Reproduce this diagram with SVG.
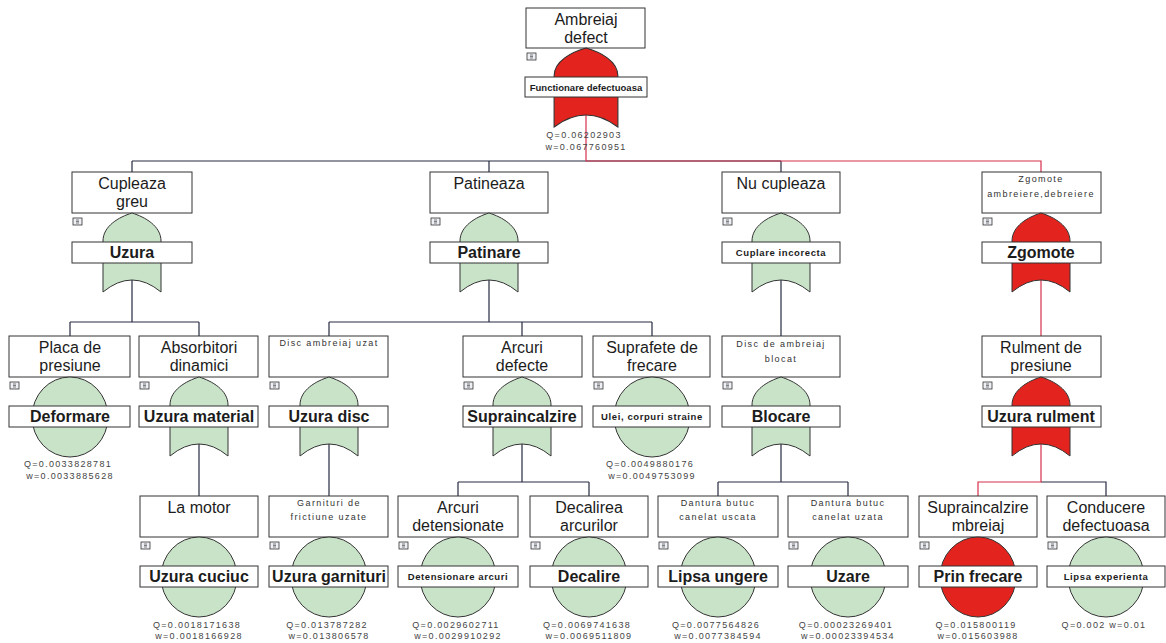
<svg xmlns="http://www.w3.org/2000/svg" xmlns:xlink="http://www.w3.org/1999/xlink" width="1166" height="643" viewBox="0 0 1166 643">
<style>
text{font-family:"Liberation Sans",Arial,sans-serif;fill:#1c1c1c;text-anchor:middle}
.box{fill:#fff;stroke:#333;stroke-width:1}
.lbl{fill:#fff;stroke:#333;stroke-width:1}
.t{font-size:16px}
.ts{font-size:9px;letter-spacing:1.4px;fill:#333}
.b{font-size:16px;font-weight:bold}
.bs{font-size:9.5px;font-weight:bold;letter-spacing:0.6px}
.q{font-size:9px;letter-spacing:1.3px;fill:#444}
.g{fill:#c9e3c9;stroke:#333;stroke-width:1}
.r{fill:#e3231d;stroke:#333;stroke-width:1}
.ln{stroke:#262a40;stroke-width:1.2;fill:none}
.lr{stroke:#d6304c;stroke-width:1.2;fill:none}
</style>
<defs>
<path id="gate" d="M-29,79 V28 C-29,13 -13,4 0,0 C13,4 29,13 29,28 V79 Q0,55 -29,79 Z"/>
<g id="ico"><rect x="0" y="0" width="9" height="7" fill="#eef0f6" stroke="#333" stroke-width="0.8"/><path d="M3,2 H6 M3,3.5 H6 M3,5 H6" stroke="#333" stroke-width="0.6"/></g>
</defs>
<rect width="1166" height="643" fill="#fff"/>
<g id="connectors">
<path class="ln" d="M132,161 H781 M132,161 V172 M489,161 V172 M781,161 V172"/>
<path class="lr" d="M586,115 V161 H1041 V172"/>
<path class="ln" d="M132,280 V322 M70,322 H199 M70,322 V336 M199,322 V336"/>
<path class="ln" d="M489,280 V322 M329,322 H652 M329,322 V336 M522,322 V336 M652,322 V336"/>
<path class="ln" d="M781,280 V336"/>
<path class="lr" d="M1041,280 V336"/>
<path class="ln" d="M199,444 V496 M329,444 V496"/>
<path class="ln" d="M522,444 V482 M458,482 H589 M458,482 V496 M589,482 V496"/>
<path class="ln" d="M781,444 V482 M718,482 H848 M718,482 V496 M848,482 V496"/>
<path class="ln" d="M1041,482 H1106 V496"/>
<path class="lr" d="M1041,444 V482 H978 V496"/>
</g>
<g id="n-ambreiaj">
<rect class="box" x="526" y="8" width="119" height="40"/>
<text class="t" x="586" y="25">Ambreiaj</text><text class="t" x="586" y="43">defect</text>
<use xlink:href="#ico" x="527" y="53"/>
<use xlink:href="#gate" class="r" transform="translate(586,48) scale(1.1,1)"/>
<rect class="lbl" x="525" y="77" width="122" height="20"/>
<text class="bs" x="586" y="91" style="letter-spacing:0">Functionare defectuoasa</text>
<text class="q" x="584" y="138">Q=0.06202903</text><text class="q" x="586" y="150">w=0.067760951</text>
</g>
<g id="n-cupleaza">
<rect class="box" x="72" y="172" width="120" height="41"/>
<text class="t" x="132" y="189">Cupleaza</text><text class="t" x="132" y="207">greu</text>
<use xlink:href="#ico" x="73" y="218"/>
<use xlink:href="#gate" class="g" x="132" y="213"/>
<rect class="lbl" x="72" y="242" width="120" height="21"/>
<text class="b" x="132" y="258">Uzura</text>
</g>
<g id="n-patineaza">
<rect class="box" x="430" y="172" width="118" height="41"/>
<text class="t" x="489" y="189">Patineaza</text>
<use xlink:href="#ico" x="431" y="218"/>
<use xlink:href="#gate" class="g" x="489" y="213"/>
<rect class="lbl" x="430" y="242" width="118" height="21"/>
<text class="b" x="489" y="258">Patinare</text>
</g>
<g id="n-nucupleaza">
<rect class="box" x="722" y="172" width="118" height="41"/>
<text class="t" x="781" y="189">Nu cupleaza</text>
<use xlink:href="#ico" x="723" y="218"/>
<use xlink:href="#gate" class="g" x="781" y="213"/>
<rect class="lbl" x="722" y="242" width="118" height="21"/>
<text class="bs" x="781" y="256">Cuplare incorecta</text>
</g>
<g id="n-zgomote">
<rect class="box" x="982" y="172" width="119" height="41"/>
<text class="ts" x="1041" y="182">Zgomote</text><text class="ts" x="1041" y="197">ambreiere,debreiere</text>
<use xlink:href="#ico" x="983" y="218"/>
<use xlink:href="#gate" class="r" x="1041" y="213"/>
<rect class="lbl" x="982" y="242" width="119" height="21"/>
<text class="b" x="1041" y="258">Zgomote</text>
</g>
<g id="n-placa">
<rect class="box" x="9" y="336" width="121" height="41"/>
<text class="t" x="70" y="353">Placa de</text><text class="t" x="70" y="371">presiune</text>
<use xlink:href="#ico" x="10" y="382"/>
<ellipse class="g" cx="70" cy="417" rx="38" ry="40"/>
<rect class="lbl" x="9" y="406" width="121" height="21"/>
<text class="b" x="70" y="422">Deformare</text>
<text class="q" x="68" y="467">Q=0.0033828781</text><text class="q" x="70" y="479">w=0.0033885628</text>
</g>
<g id="n-absorbitori">
<rect class="box" x="139" y="336" width="119" height="41"/>
<text class="t" x="199" y="353">Absorbitori</text><text class="t" x="199" y="371">dinamici</text>
<use xlink:href="#ico" x="140" y="382"/>
<use xlink:href="#gate" class="g" x="199" y="377"/>
<rect class="lbl" x="139" y="406" width="119" height="21"/>
<text class="b" x="199" y="422">Uzura material</text>
</g>
<g id="n-disc">
<rect class="box" x="269" y="336" width="119" height="41"/>
<text class="ts" x="329" y="346">Disc ambreiaj uzat</text>
<use xlink:href="#ico" x="270" y="382"/>
<use xlink:href="#gate" class="g" x="329" y="377"/>
<rect class="lbl" x="269" y="406" width="119" height="21"/>
<text class="b" x="329" y="422">Uzura disc</text>
</g>
<g id="n-arcuri">
<rect class="box" x="463" y="336" width="119" height="41"/>
<text class="t" x="522" y="353">Arcuri</text><text class="t" x="522" y="371">defecte</text>
<use xlink:href="#ico" x="464" y="382"/>
<use xlink:href="#gate" class="g" x="522" y="377"/>
<rect class="lbl" x="463" y="406" width="119" height="21"/>
<text class="b" x="522" y="422">Supraincalzire</text>
</g>
<g id="n-suprafete">
<rect class="box" x="593" y="336" width="117" height="41"/>
<text class="t" x="652" y="353">Suprafete de</text><text class="t" x="652" y="371">frecare</text>
<use xlink:href="#ico" x="594" y="382"/>
<ellipse class="g" cx="652" cy="417" rx="38" ry="40"/>
<rect class="lbl" x="593" y="406" width="117" height="21"/>
<text class="bs" x="652" y="420">Ulei, corpuri straine</text>
<text class="q" x="650" y="467">Q=0.0049880176</text><text class="q" x="652" y="479">w=0.0049753099</text>
</g>
<g id="n-discblocat">
<rect class="box" x="722" y="336" width="118" height="41"/>
<text class="ts" x="781" y="347">Disc de ambreiaj</text><text class="ts" x="781" y="362">blocat</text>
<use xlink:href="#ico" x="723" y="382"/>
<use xlink:href="#gate" class="g" x="781" y="377"/>
<rect class="lbl" x="722" y="406" width="118" height="21"/>
<text class="b" x="781" y="422">Blocare</text>
</g>
<g id="n-rulment">
<rect class="box" x="982" y="336" width="119" height="41"/>
<text class="t" x="1041" y="353">Rulment de</text><text class="t" x="1041" y="371">presiune</text>
<use xlink:href="#ico" x="983" y="382"/>
<use xlink:href="#gate" class="r" x="1041" y="377"/>
<rect class="lbl" x="982" y="406" width="119" height="21"/>
<text class="b" x="1041" y="422">Uzura rulment</text>
</g>
<g id="n-lamotor">
<rect class="box" x="140" y="496" width="118" height="41"/>
<text class="t" x="199" y="513">La motor</text>
<use xlink:href="#ico" x="141" y="542"/>
<ellipse class="g" cx="199" cy="577" rx="38" ry="40"/>
<rect class="lbl" x="140" y="566" width="118" height="21"/>
<text class="b" x="199" y="582">Uzura cuciuc</text>
<text class="q" x="197" y="628">Q=0.0018171638</text><text class="q" x="199" y="639">w=0.0018166928</text>
</g>
<g id="n-garnituri">
<rect class="box" x="269" y="496" width="119" height="41"/>
<text class="ts" x="329" y="506">Garnituri de</text><text class="ts" x="329" y="520">frictiune uzate</text>
<use xlink:href="#ico" x="270" y="542"/>
<ellipse class="g" cx="329" cy="577" rx="38" ry="40"/>
<rect class="lbl" x="269" y="566" width="119" height="21"/>
<text class="b" x="329" y="582">Uzura garnituri</text>
<text class="q" x="327" y="628">Q=0.013787282</text><text class="q" x="329" y="639">w=0.013806578</text>
</g>
<g id="n-detensionate">
<rect class="box" x="398" y="496" width="120" height="41"/>
<text class="t" x="458" y="513">Arcuri</text><text class="t" x="458" y="531">detensionate</text>
<use xlink:href="#ico" x="399" y="542"/>
<ellipse class="g" cx="458" cy="577" rx="38" ry="40"/>
<rect class="lbl" x="398" y="566" width="120" height="21"/>
<text class="bs" x="458" y="580">Detensionare arcuri</text>
<text class="q" x="456" y="628">Q=0.0029602711</text><text class="q" x="458" y="639">w=0.0029910292</text>
</g>
<g id="n-decalirea">
<rect class="box" x="530" y="496" width="118" height="41"/>
<text class="t" x="589" y="513">Decalirea</text><text class="t" x="589" y="531">arcurilor</text>
<use xlink:href="#ico" x="531" y="542"/>
<ellipse class="g" cx="589" cy="577" rx="38" ry="40"/>
<rect class="lbl" x="530" y="566" width="118" height="21"/>
<text class="b" x="589" y="582">Decalire</text>
<text class="q" x="587" y="628">Q=0.0069741638</text><text class="q" x="589" y="639">w=0.0069511809</text>
</g>
<g id="n-dantura1">
<rect class="box" x="658" y="496" width="120" height="41"/>
<text class="ts" x="718" y="506">Dantura butuc</text><text class="ts" x="718" y="520">canelat uscata</text>
<use xlink:href="#ico" x="659" y="542"/>
<ellipse class="g" cx="718" cy="577" rx="38" ry="40"/>
<rect class="lbl" x="658" y="566" width="120" height="21"/>
<text class="b" x="718" y="582">Lipsa ungere</text>
<text class="q" x="716" y="628">Q=0.0077564826</text><text class="q" x="718" y="639">w=0.0077384594</text>
</g>
<g id="n-dantura2">
<rect class="box" x="788" y="496" width="120" height="41"/>
<text class="ts" x="848" y="506">Dantura butuc</text><text class="ts" x="848" y="520">canelat uzata</text>
<use xlink:href="#ico" x="789" y="542"/>
<ellipse class="g" cx="848" cy="577" rx="38" ry="40"/>
<rect class="lbl" x="788" y="566" width="120" height="21"/>
<text class="b" x="848" y="582">Uzare</text>
<text class="q" x="846" y="628">Q=0.00023269401</text><text class="q" x="848" y="639">w=0.00023394534</text>
</g>
<g id="n-supraincalzire">
<rect class="box" x="919" y="496" width="118" height="41"/>
<text class="t" x="978" y="513">Supraincalzire</text><text class="t" x="978" y="531">mbreiaj</text>
<use xlink:href="#ico" x="920" y="542"/>
<ellipse class="r" cx="978" cy="577" rx="38" ry="40"/>
<rect class="lbl" x="919" y="566" width="118" height="21"/>
<text class="b" x="978" y="582">Prin frecare</text>
<text class="q" x="976" y="628">Q=0.015800119</text><text class="q" x="978" y="639">w=0.015603988</text>
</g>
<g id="n-conducere">
<rect class="box" x="1047" y="496" width="118" height="41"/>
<text class="t" x="1106" y="513">Conducere</text><text class="t" x="1106" y="531">defectuoasa</text>
<use xlink:href="#ico" x="1048" y="542"/>
<ellipse class="g" cx="1106" cy="577" rx="38" ry="40"/>
<rect class="lbl" x="1047" y="566" width="118" height="21"/>
<text class="bs" x="1106" y="580">Lipsa experienta</text>
<text class="q" x="1104" y="628">Q=0.002 w=0.01</text>
</g>
</svg>
